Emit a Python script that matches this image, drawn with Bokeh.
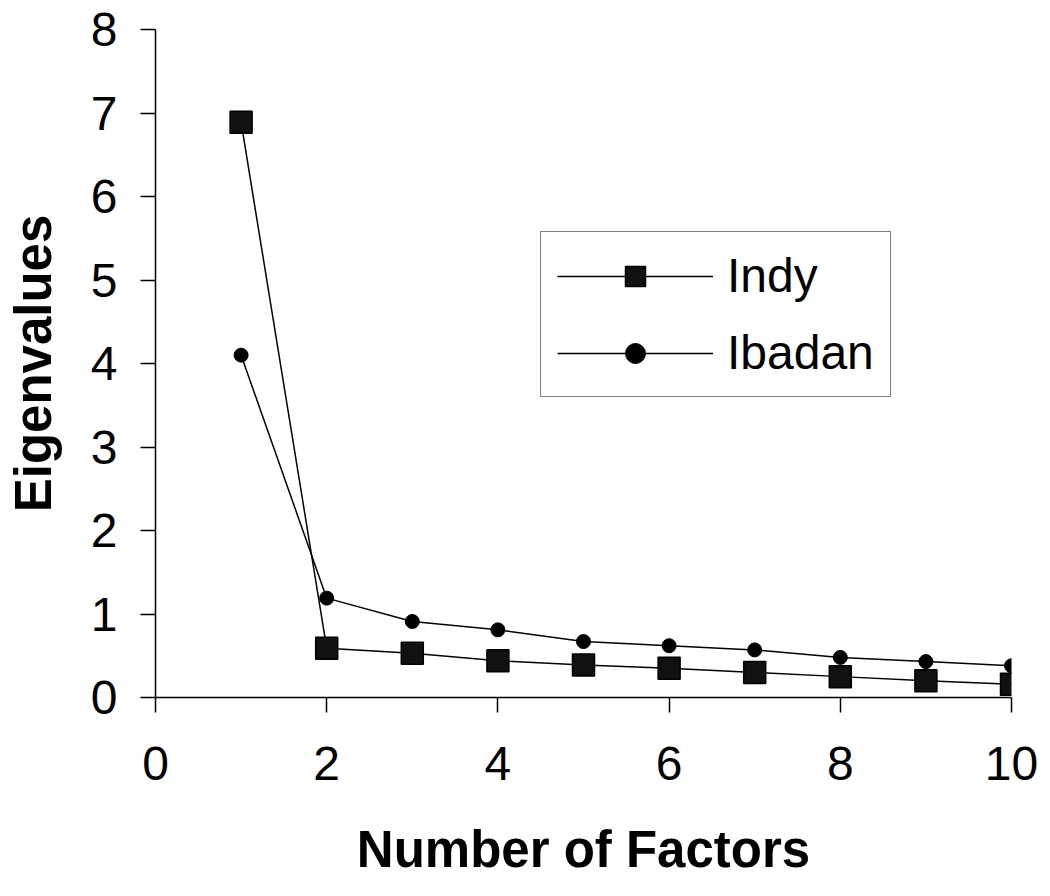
from bokeh.plotting import figure
from bokeh.models import Range1d, FixedTicker, Legend, LegendItem
from bokeh.embed import file_html
from bokeh.resources import INLINE

factors = [1, 2, 3, 4, 5, 6, 7, 8, 9, 10]
indy = [6.89, 0.59, 0.53, 0.44, 0.39, 0.35, 0.30, 0.25, 0.20, 0.16]
ibadan = [4.10, 1.19, 0.91, 0.81, 0.67, 0.62, 0.57, 0.48, 0.43, 0.38]
x_ticks = [0, 2, 4, 6, 8, 10]
y_ticks = [0, 1, 2, 3, 4, 5, 6, 7, 8]

FONT = "Liberation Sans"

p = figure(width=1040, height=880, output_backend="svg", toolbar_location=None,
           x_range=Range1d(0, 10), y_range=Range1d(0, 8),
           min_border_left=155, min_border_right=29, min_border_top=29, min_border_bottom=183)
p.outline_line_color = None
p.grid.visible = False
p.background_fill_color = "white"

for ax in (p.xaxis, p.yaxis):
    ax.axis_line_color = "black"
    ax.axis_line_width = 1.5
    ax.major_tick_line_color = "black"
    ax.major_tick_line_width = 1.5
    ax.major_tick_in = 0
    ax.major_tick_out = 15
    ax.minor_tick_line_color = None
    ax.major_label_text_font = FONT
    ax.major_label_text_font_size = "48px"
    ax.major_label_text_color = "black"
    ax.axis_label_text_font = FONT
    ax.axis_label_text_font_size = "51px"
    ax.axis_label_text_font_style = "bold"
    ax.axis_label_text_color = "black"

p.xaxis.ticker = FixedTicker(ticks=x_ticks)
p.yaxis.ticker = FixedTicker(ticks=y_ticks)
p.xaxis.major_label_standoff = 34
p.yaxis.major_label_standoff = 23
p.xaxis.axis_label = "Number of Factors"
p.yaxis.axis_label = "Eigenvalues"
p.xaxis.axis_label_standoff = 38
p.yaxis.axis_label_standoff = 26

l1 = p.line(factors, indy, line_color="black", line_width=1.5)
s1 = p.scatter(factors, indy, marker="square", size=22, fill_color="#111111",
               line_color="black", line_width=1.5)
l2 = p.line(factors, ibadan, line_color="black", line_width=1.5)
s2 = p.scatter(factors, ibadan, marker="circle", size=14, fill_color="black",
               line_color="black")

legend = Legend(items=[LegendItem(label="Indy", renderers=[l1, s1]),
                       LegendItem(label="Ibadan", renderers=[l2, s2])],
                location=(385, 300))
legend.label_text_font = FONT
legend.label_text_font_size = "48px"
legend.label_text_color = "black"
legend.glyph_width = 156
legend.glyph_height = 50
legend.label_height = 50
legend.spacing = 22
legend.padding = 16
legend.margin = 0
legend.label_standoff = 14
legend.border_line_color = "black"
legend.border_line_width = 1.5
legend.background_fill_alpha = 1
p.add_layout(legend, "center")

open("out.html", "w").write(file_html(p, INLINE))
